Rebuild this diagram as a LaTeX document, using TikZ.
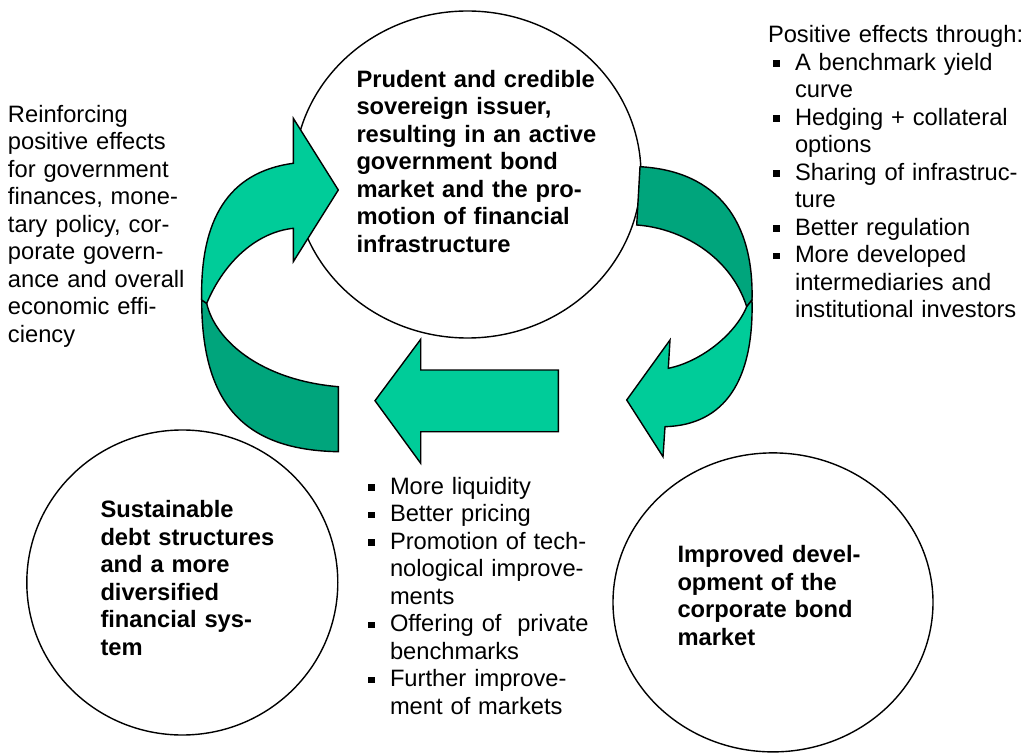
\documentclass[tikz,border=0pt]{standalone}
\usepackage{fontspec}
\setmainfont{Liberation Sans}
\usetikzlibrary{shapes.geometric}
\definecolor{lightgr}{RGB}{0,204,153}
\definecolor{darkgr}{RGB}{0,165,124}
\setlength{\parindent}{0pt}
\newcommand{\sqb}{\raisebox{3.3pt}{\rule{6.6pt}{6.6pt}}}
\newcommand{\itmfirst}{\noindent\hangindent=27pt\hangafter=1\makebox[27pt][l]{\hspace{5pt}\sqb}}
\newcommand{\itm}{\par\itmfirst}
\begin{document}
\begin{tikzpicture}[x=1pt,y=-1pt,
  txt/.style={anchor=base west,inner sep=0pt,outer sep=0pt,text width=400pt,font=\fontsize{23.7pt}{27.5pt}\selectfont},
  bold/.style={txt,font=\fontsize{23.7pt}{27.5pt}\selectfont\bfseries},
  circ/.style={ellipse,draw=black,line width=1.4pt,inner sep=0pt,outer sep=0pt},
  arr/.style={draw=black,line width=1.4pt,line join=miter}]
\useasboundingbox (0,0) rectangle (1029,754);
% circles
\node[circ,minimum width=347pt,minimum height=327pt] (ctop) at (467.5,174.5) {};
\node[circ,minimum width=311pt,minimum height=305pt] (cleft) at (182.3,582.5) {};
\node[circ,minimum width=320pt,minimum height=299pt] (cright) at (773,602.4) {};
% left curved arrow
\path[arr,fill=darkgr] (201.7,300) .. controls (201.7,405) and (245,450) .. (338.3,451.7)
  -- (338.3,386.7) .. controls (260,380) and (215,340) .. (206.7,303.3) -- cycle;
\path[arr,fill=lightgr] (201.7,300) .. controls (200,220) and (228,172) .. (293.3,163.3)
  -- (293.3,118.3) -- (338.3,190) -- (293.3,261.7) -- (293.3,228.3)
  .. controls (258,232) and (225,260) .. (206.7,303.3) -- cycle;
% right curved arrow
\path[arr,fill=darkgr] (640,166.7) .. controls (718,171) and (754,222) .. (752,300)
  -- (746.7,306.7) .. controls (730,255) and (680,228) .. (636.7,225) -- cycle;
\path[arr,fill=lightgr] (752,300) .. controls (754,380) and (725,425) .. (665,426.7)
  -- (663,456.7) -- (626.7,400) -- (670,340) -- (668.3,368.3)
  .. controls (700,362) and (735,335) .. (746.7,306.7) -- cycle;
% middle straight arrow
\path[arr,fill=lightgr] (558.3,370) -- (420.7,370) -- (420.7,339.3) -- (375,400.7)
  -- (420.7,463.3) -- (420.7,431.7) -- (558.3,431.7) -- cycle;
% texts
\node[txt] (lefttext) at (8,122.3) {Reinforcing\newline positive effects\newline for government\newline finances, mone-\newline tary policy, cor-\newline porate govern-\newline ance and overall\newline economic effi-\newline ciency};
\node[bold] (toptext) at (356.5,87.3) {Prudent and credible\newline sovereign issuer,\newline resulting in an active\newline government bond\newline market and the pro-\newline motion of financial\newline infrastructure};
\node[bold] (lefttxt) at (100.5,517.7) {Sustainable\newline debt structures\newline and a more\newline diversified\newline financial sys-\newline tem};
\node[bold] (righttxt) at (677.5,562.7) {Improved devel-\newline opment of the\newline corporate bond\newline market};
\node[txt] (rightlist) at (768,42.7) {Positive effects through:\itm A benchmark yield\newline curve\itm Hedging + collateral\newline options\itm Sharing of infrastruc-\newline ture\itm Better regulation\itm More developed\newline intermediaries and\newline institutional investors\par};
\node[txt] (bottomlist) at (363,494) {\itmfirst More liquidity\itm Better pricing\itm Promotion of tech-\newline nological improve-\newline ments\itm Offering of\ \ private\newline benchmarks\itm Further improve-\newline ment of markets\par};
\end{tikzpicture}
\end{document}
